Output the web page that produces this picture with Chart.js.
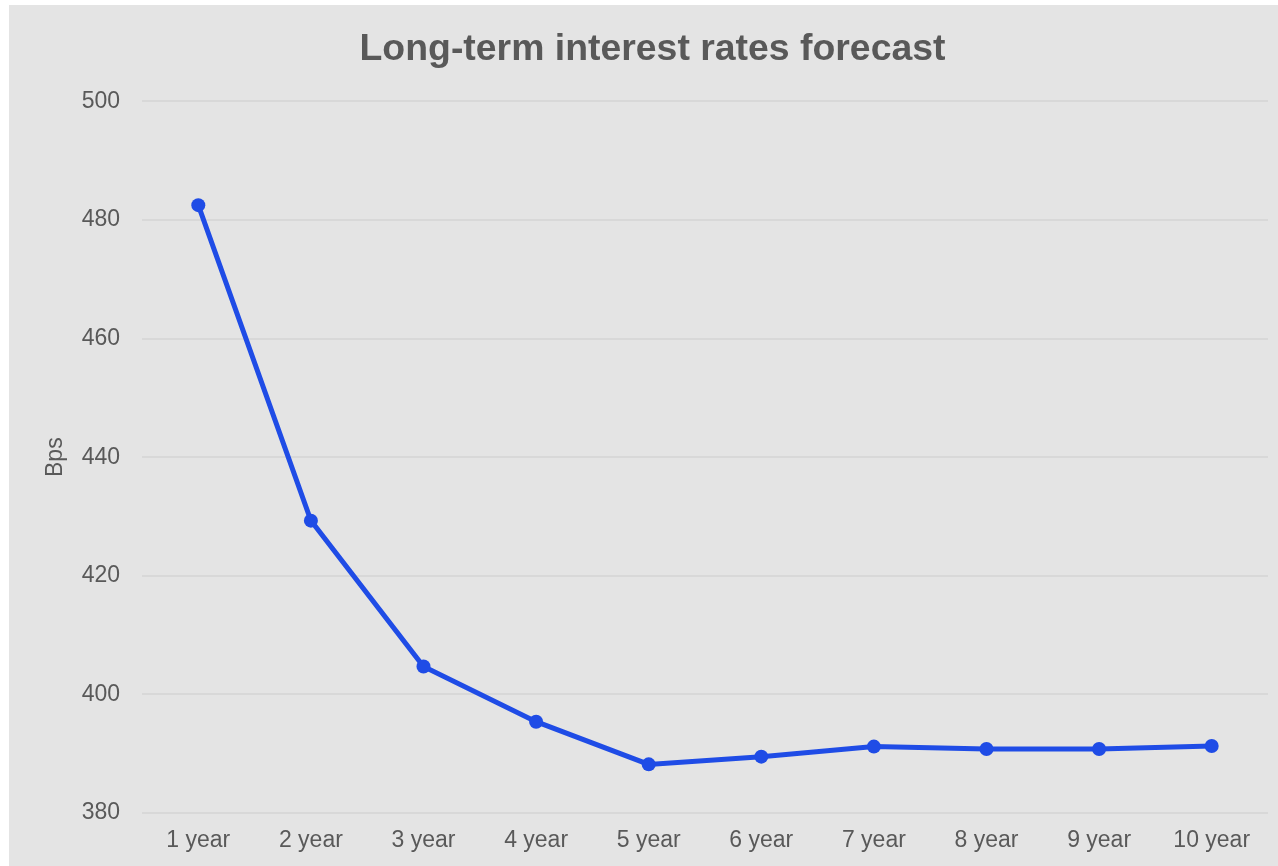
<!DOCTYPE html>
<html>
<head>
<meta charset="utf-8">
<title>Long-term interest rates forecast</title>
<script src="https://cdn.jsdelivr.net/npm/chart.js@4/dist/chart.umd.min.js"></script>
<style>
  html, body { margin: 0; padding: 0; background: #ffffff; }
  #panel {
    position: absolute; left: 9px; top: 5px;
    width: 1269px; height: 861px;
    background: #e4e4e4;
  }
</style>
</head>
<body>
<div id="panel"><canvas id="chart"></canvas></div>
<script>
// Forecast horizons and rates (basis points)
const horizons = ['1 year', '2 year', '3 year', '4 year', '5 year', '6 year', '7 year', '8 year', '9 year', '10 year'];
const rateBps = [482.5, 429.3, 404.7, 395.4, 388.2, 389.5, 391.2, 390.8, 390.8, 391.3];
const yMin = 380;
const yMax = 500;
const yStep = 20;

const textColor = '#595959';
const lineColor = '#1f4ce6';
const gridColor = '#d8d8d8';
const fontFamily = '"Liberation Sans", Arial, Helvetica, sans-serif';

new Chart(document.getElementById('chart'), {
  type: 'line',
  data: {
    labels: horizons,
    datasets: [{
      data: rateBps,
      borderColor: lineColor,
      backgroundColor: lineColor,
      borderWidth: 5,
      pointRadius: 7,
      pointBorderWidth: 0,
      pointBackgroundColor: lineColor,
      tension: 0,
      fill: false
    }]
  },
  options: {
    responsive: true,
    maintainAspectRatio: false,
    animation: false,
    layout: { padding: { left: 28, right: 10, top: 22, bottom: 0 } },
    plugins: {
      legend: { display: false },
      tooltip: { enabled: false },
      title: {
        display: true,
        text: 'Long-term interest rates forecast',
        color: textColor,
        font: { family: fontFamily, size: 37.4, weight: 'bold' },
        padding: { top: 0, bottom: 29.5 }
      }
    },
    scales: {
      x: {
        offset: true,
        grid: { display: false, drawTicks: false },
        border: { display: false },
        ticks: {
          color: textColor,
          font: { family: fontFamily, size: 23 },
          padding: 14,
          maxRotation: 0,
          autoSkip: false
        },
        afterFit: (axis) => { axis.height = 53; }
      },
      y: {
        min: yMin,
        max: yMax,
        grid: { color: gridColor, lineWidth: 2, drawTicks: false },
        border: { display: false },
        ticks: {
          stepSize: yStep,
          color: textColor,
          font: { family: fontFamily, size: 23 },
          padding: 22
        },
        title: {
          display: true,
          text: 'Bps',
          color: textColor,
          font: { family: fontFamily, size: 23 },
          padding: { top: 5, bottom: 0 }
        },
        afterFit: (axis) => { axis.width = 105; }
      }
    }
  }
});
</script>
</body>
</html>
